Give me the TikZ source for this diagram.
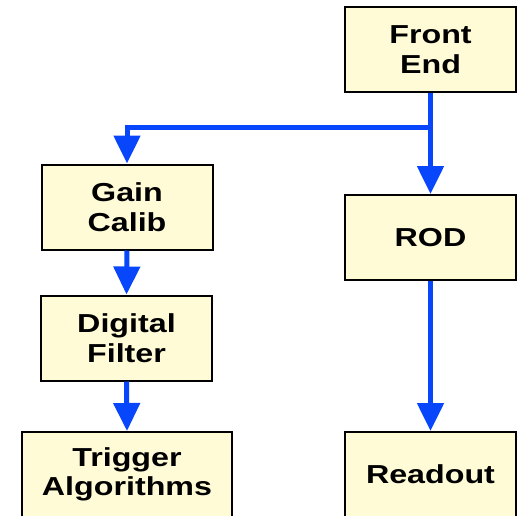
\documentclass[tikz,border=0pt]{standalone}
\usepackage{fontspec}
\setmainfont{Liberation Sans}[FakeStretch=1.24]
\usetikzlibrary{arrows.meta}
\definecolor{boxfill}{RGB}{255,251,214}
\definecolor{flowblue}{RGB}{8,70,252}
\tikzset{
  stagebox/.style={draw=black, line width=2pt, fill=boxfill, rectangle,
    minimum width=171pt, minimum height=85pt, inner sep=0pt, align=center,
    font=\fontsize{26}{29.5}\selectfont\bfseries},
  flow/.style={draw=flowblue, line width=5pt,
    -{Triangle[width=26pt,length=28pt]}}
}
\begin{document}
\begin{tikzpicture}[x=1pt,y=-1pt]
\useasboundingbox (0,0) rectangle (522,515);
\clip (0,0) rectangle (522,515);
\node[stagebox] (fe) at (430.5,49.5) {Front\\End};
\node[stagebox] (gc) at (127,207) {Gain\\Calib};
\node[stagebox] (df) at (126.5,338) {Digital\\Filter};
\node[stagebox, minimum width=210pt] (tr) at (127,474.5) {Trigger\\Algorithms};
\node[stagebox] (rod) at (430.5,237.5) {ROD};
\node[stagebox] (ro) at (430.5,474.5) {Readout};
\coordinate (fork) at (430.5,127);
\draw[flow] (fe.south) -- (rod.north);
\draw[flow] (fork) -| (gc.north);
\draw[flow] (gc.south) -- (df.north);
\draw[flow] (df.south) -- (tr.north);
\draw[flow] (rod.south) -- (ro.north);
\end{tikzpicture}
\end{document}
